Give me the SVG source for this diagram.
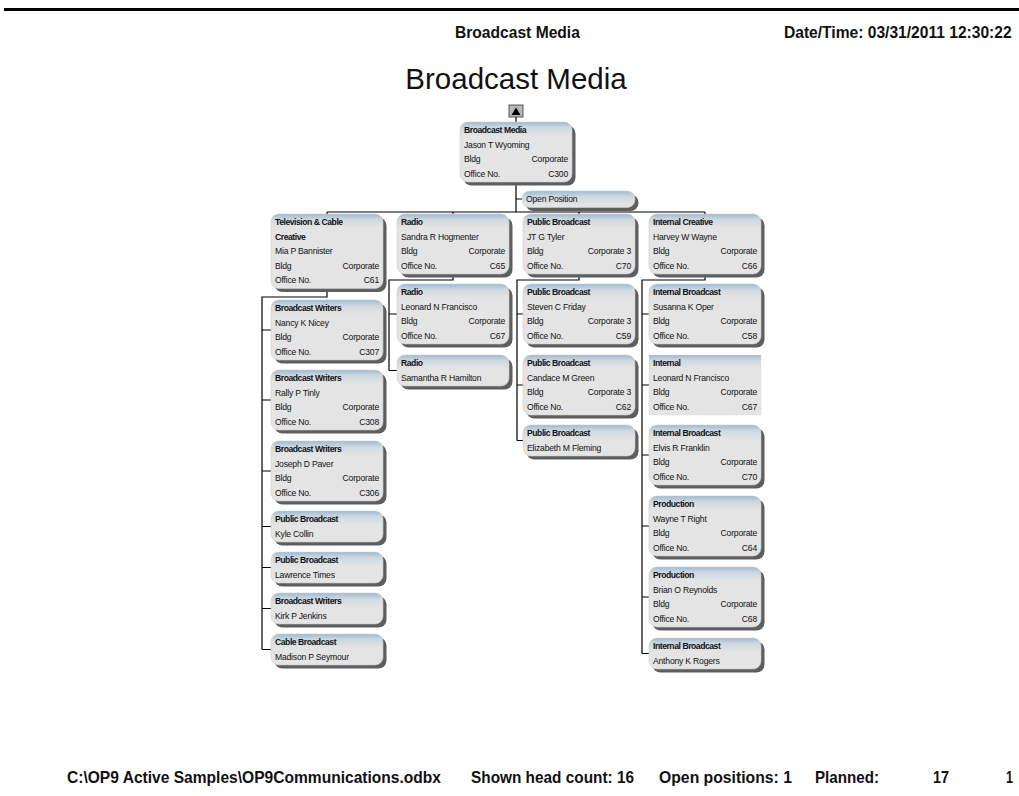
<svg xmlns="http://www.w3.org/2000/svg" width="1019" height="796" viewBox="0 0 1019 796">
<defs>
<linearGradient id="cg" gradientUnits="userSpaceOnUse" x1="0" y1="0" x2="0" y2="14">
<stop offset="0" stop-color="#9dbad2"/>
<stop offset="0.4" stop-color="#cfd8df"/>
<stop offset="1" stop-color="#e4e4e4"/>
</linearGradient>
<style>
.sh{fill:#5e5e5e}
.card{fill:url(#cg);stroke:#cfcfcf;stroke-width:0.6}
.flat{fill:url(#cg);stroke:#d8d8d8;stroke-width:0.6;stroke-dasharray:1.5 1}
text{font-family:"Liberation Sans",Arial,sans-serif;fill:#111}
.t{font-size:8.6px;font-weight:bold;letter-spacing:-0.45px}
.v{font-size:8.6px;letter-spacing:-0.2px}
.r{text-anchor:end}
.hd{font-size:16.5px;font-weight:bold}
.ttl{font-size:29.5px}
.conn{stroke:#000;stroke-width:1.2;fill:none}
</style>
</defs>
<rect x="4" y="8" width="1015" height="3" fill="#000"/>
<text class="hd" transform="translate(455,38) scale(0.947,1)">Broadcast Media</text>
<text class="hd" transform="translate(784,38) scale(0.945,1)">Date/Time: 03/31/2011 12:30:22</text>
<text class="ttl" x="516" y="89" text-anchor="middle">Broadcast Media</text>

<g id="connectors">
<path class="conn" d="M516 117V122"/>
<path class="conn" d="M516 182V212M516 199H522"/>
<path class="conn" d="M327 212H705M327 212V214M453 212V214M579 212V214M705 212V214"/>
<path class="conn" d="M327 288V297H262V649.5"/>
<path class="conn" d="M262 330H271M262 400H271M262 471H271M262 526.5H271M262 567.5H271M262 608.5H271M262 649.5H271"/>
<path class="conn" d="M453 274V280H389V370.5M389 314H397M389 370.5H397"/>
<path class="conn" d="M579 274V280H517V440.5M517 314H523M517 385H523M517 440.5H523"/>
<path class="conn" d="M705 274V280H642V653.5M642 314H649M642 385H649M642 455H649M642 526H649M642 597H649M642 653.5H649"/>
</g>

<g id="collapse-btn">
<rect x="509" y="105" width="14" height="12" fill="#b8b8b8" stroke="#333" stroke-width="0.8"/>
<path d="M511.5 115L516 107.5L520.5 115Z" fill="#000"/>
</g>

<g id="n-root" transform="translate(460,122)">
<rect class="sh" x="3.5" y="3.5" width="112" height="60" rx="8"/>
<rect class="card" width="112" height="60" rx="8"/>
<text class="t" x="4" y="11">Broadcast Media</text>
<text class="v" x="4" y="25.5">Jason T Wyoming</text>
<text class="v" x="4" y="40">Bldg</text><text class="v r" x="108" y="40">Corporate</text>
<text class="v" x="4" y="54.5">Office No.</text><text class="v r" x="108" y="54.5">C300</text>
</g>

<g id="n-open" transform="translate(522,191)">
<rect class="sh" x="3.5" y="3.5" width="113" height="16.5" rx="8"/>
<rect class="card" width="113" height="16.5" rx="8"/>
<text class="v" x="4" y="11">Open Position</text>
</g>

<g id="n-tv" transform="translate(271,214)">
<rect class="sh" x="3.5" y="3.5" width="112" height="74.5" rx="8"/>
<rect class="card" width="112" height="74.5" rx="8"/>
<text class="t" x="4" y="11">Television &amp; Cable</text>
<text class="t" x="4" y="25.5">Creative</text>
<text class="v" x="4" y="40">Mia P Bannister</text>
<text class="v" x="4" y="54.5">Bldg</text><text class="v r" x="108" y="54.5">Corporate</text>
<text class="v" x="4" y="69">Office No.</text><text class="v r" x="108" y="69">C61</text>
</g>

<g id="n-nancy" transform="translate(271,300)">
<rect class="sh" x="3.5" y="3.5" width="112" height="60" rx="8"/>
<rect class="card" width="112" height="60" rx="8"/>
<text class="t" x="4" y="11">Broadcast  Writers</text>
<text class="v" x="4" y="25.5">Nancy K Nicey</text>
<text class="v" x="4" y="40">Bldg</text><text class="v r" x="108" y="40">Corporate</text>
<text class="v" x="4" y="54.5">Office No.</text><text class="v r" x="108" y="54.5">C307</text>
</g>

<g id="n-rally" transform="translate(271,370)">
<rect class="sh" x="3.5" y="3.5" width="112" height="60" rx="8"/>
<rect class="card" width="112" height="60" rx="8"/>
<text class="t" x="4" y="11">Broadcast  Writers</text>
<text class="v" x="4" y="25.5">Rally P Tinly</text>
<text class="v" x="4" y="40">Bldg</text><text class="v r" x="108" y="40">Corporate</text>
<text class="v" x="4" y="54.5">Office No.</text><text class="v r" x="108" y="54.5">C308</text>
</g>

<g id="n-joseph" transform="translate(271,441)">
<rect class="sh" x="3.5" y="3.5" width="112" height="60" rx="8"/>
<rect class="card" width="112" height="60" rx="8"/>
<text class="t" x="4" y="11">Broadcast  Writers</text>
<text class="v" x="4" y="25.5">Joseph D Paver</text>
<text class="v" x="4" y="40">Bldg</text><text class="v r" x="108" y="40">Corporate</text>
<text class="v" x="4" y="54.5">Office No.</text><text class="v r" x="108" y="54.5">C306</text>
</g>

<g id="n-kyle" transform="translate(271,511)">
<rect class="sh" x="3.5" y="3.5" width="112" height="31" rx="8"/>
<rect class="card" width="112" height="31" rx="8"/>
<text class="t" x="4" y="11">Public Broadcast</text>
<text class="v" x="4" y="25.5">Kyle Collin</text>
</g>

<g id="n-lawrence" transform="translate(271,552)">
<rect class="sh" x="3.5" y="3.5" width="112" height="31" rx="8"/>
<rect class="card" width="112" height="31" rx="8"/>
<text class="t" x="4" y="11">Public Broadcast</text>
<text class="v" x="4" y="25.5">Lawrence Times</text>
</g>

<g id="n-kirk" transform="translate(271,593)">
<rect class="sh" x="3.5" y="3.5" width="112" height="31" rx="8"/>
<rect class="card" width="112" height="31" rx="8"/>
<text class="t" x="4" y="11">Broadcast  Writers</text>
<text class="v" x="4" y="25.5">Kirk P Jenkins</text>
</g>

<g id="n-madison" transform="translate(271,634)">
<rect class="sh" x="3.5" y="3.5" width="112" height="31" rx="8"/>
<rect class="card" width="112" height="31" rx="8"/>
<text class="t" x="4" y="11">Cable  Broadcast</text>
<text class="v" x="4" y="25.5">Madison P Seymour</text>
</g>

<g id="n-sandra" transform="translate(397,214)">
<rect class="sh" x="3.5" y="3.5" width="112" height="60" rx="8"/>
<rect class="card" width="112" height="60" rx="8"/>
<text class="t" x="4" y="11">Radio</text>
<text class="v" x="4" y="25.5">Sandra R Hogmenter</text>
<text class="v" x="4" y="40">Bldg</text><text class="v r" x="108" y="40">Corporate</text>
<text class="v" x="4" y="54.5">Office No.</text><text class="v r" x="108" y="54.5">C65</text>
</g>

<g id="n-leonard1" transform="translate(397,284)">
<rect class="sh" x="3.5" y="3.5" width="112" height="60" rx="8"/>
<rect class="card" width="112" height="60" rx="8"/>
<text class="t" x="4" y="11">Radio</text>
<text class="v" x="4" y="25.5">Leonard N Francisco</text>
<text class="v" x="4" y="40">Bldg</text><text class="v r" x="108" y="40">Corporate</text>
<text class="v" x="4" y="54.5">Office No.</text><text class="v r" x="108" y="54.5">C67</text>
</g>

<g id="n-samantha" transform="translate(397,355)">
<rect class="sh" x="3.5" y="3.5" width="112" height="31" rx="8"/>
<rect class="card" width="112" height="31" rx="8"/>
<text class="t" x="4" y="11">Radio</text>
<text class="v" x="4" y="25.5">Samantha R Hamilton</text>
</g>

<g id="n-jt" transform="translate(523,214)">
<rect class="sh" x="3.5" y="3.5" width="112" height="60" rx="8"/>
<rect class="card" width="112" height="60" rx="8"/>
<text class="t" x="4" y="11">Public Broadcast</text>
<text class="v" x="4" y="25.5">JT G Tyler</text>
<text class="v" x="4" y="40">Bldg</text><text class="v r" x="108" y="40">Corporate 3</text>
<text class="v" x="4" y="54.5">Office No.</text><text class="v r" x="108" y="54.5">C70</text>
</g>

<g id="n-steven" transform="translate(523,284)">
<rect class="sh" x="3.5" y="3.5" width="112" height="60" rx="8"/>
<rect class="card" width="112" height="60" rx="8"/>
<text class="t" x="4" y="11">Public Broadcast</text>
<text class="v" x="4" y="25.5">Steven C Friday</text>
<text class="v" x="4" y="40">Bldg</text><text class="v r" x="108" y="40">Corporate 3</text>
<text class="v" x="4" y="54.5">Office No.</text><text class="v r" x="108" y="54.5">C59</text>
</g>

<g id="n-candace" transform="translate(523,355)">
<rect class="sh" x="3.5" y="3.5" width="112" height="60" rx="8"/>
<rect class="card" width="112" height="60" rx="8"/>
<text class="t" x="4" y="11">Public Broadcast</text>
<text class="v" x="4" y="25.5">Candace M Green</text>
<text class="v" x="4" y="40">Bldg</text><text class="v r" x="108" y="40">Corporate 3</text>
<text class="v" x="4" y="54.5">Office No.</text><text class="v r" x="108" y="54.5">C62</text>
</g>

<g id="n-elizabeth" transform="translate(523,425)">
<rect class="sh" x="3.5" y="3.5" width="112" height="31" rx="8"/>
<rect class="card" width="112" height="31" rx="8"/>
<text class="t" x="4" y="11">Public Broadcast</text>
<text class="v" x="4" y="25.5">Elizabeth M Fleming</text>
</g>

<g id="n-harvey" transform="translate(649,214)">
<rect class="sh" x="3.5" y="3.5" width="112" height="60" rx="8"/>
<rect class="card" width="112" height="60" rx="8"/>
<text class="t" x="4" y="11">Internal  Creative</text>
<text class="v" x="4" y="25.5">Harvey W Wayne</text>
<text class="v" x="4" y="40">Bldg</text><text class="v r" x="108" y="40">Corporate</text>
<text class="v" x="4" y="54.5">Office No.</text><text class="v r" x="108" y="54.5">C66</text>
</g>

<g id="n-susanna" transform="translate(649,284)">
<rect class="sh" x="3.5" y="3.5" width="112" height="60" rx="8"/>
<rect class="card" width="112" height="60" rx="8"/>
<text class="t" x="4" y="11">Internal  Broadcast</text>
<text class="v" x="4" y="25.5">Susanna K Oper</text>
<text class="v" x="4" y="40">Bldg</text><text class="v r" x="108" y="40">Corporate</text>
<text class="v" x="4" y="54.5">Office No.</text><text class="v r" x="108" y="54.5">C58</text>
</g>

<g id="n-leonard2" transform="translate(649,355)">
<rect class="flat" width="112" height="60"/>
<text class="t" x="4" y="11">Internal</text>
<text class="v" x="4" y="25.5">Leonard N Francisco</text>
<text class="v" x="4" y="40">Bldg</text><text class="v r" x="108" y="40">Corporate</text>
<text class="v" x="4" y="54.5">Office No.</text><text class="v r" x="108" y="54.5">C67</text>
</g>

<g id="n-elvis" transform="translate(649,425)">
<rect class="sh" x="3.5" y="3.5" width="112" height="60" rx="8"/>
<rect class="card" width="112" height="60" rx="8"/>
<text class="t" x="4" y="11">Internal  Broadcast</text>
<text class="v" x="4" y="25.5">Elvis R Franklin</text>
<text class="v" x="4" y="40">Bldg</text><text class="v r" x="108" y="40">Corporate</text>
<text class="v" x="4" y="54.5">Office No.</text><text class="v r" x="108" y="54.5">C70</text>
</g>

<g id="n-wayne" transform="translate(649,496)">
<rect class="sh" x="3.5" y="3.5" width="112" height="60" rx="8"/>
<rect class="card" width="112" height="60" rx="8"/>
<text class="t" x="4" y="11">Production</text>
<text class="v" x="4" y="25.5">Wayne T Right</text>
<text class="v" x="4" y="40">Bldg</text><text class="v r" x="108" y="40">Corporate</text>
<text class="v" x="4" y="54.5">Office No.</text><text class="v r" x="108" y="54.5">C64</text>
</g>

<g id="n-brian" transform="translate(649,567)">
<rect class="sh" x="3.5" y="3.5" width="112" height="60" rx="8"/>
<rect class="card" width="112" height="60" rx="8"/>
<text class="t" x="4" y="11">Production</text>
<text class="v" x="4" y="25.5">Brian O Reynolds</text>
<text class="v" x="4" y="40">Bldg</text><text class="v r" x="108" y="40">Corporate</text>
<text class="v" x="4" y="54.5">Office No.</text><text class="v r" x="108" y="54.5">C68</text>
</g>

<g id="n-anthony" transform="translate(649,638)">
<rect class="sh" x="3.5" y="3.5" width="112" height="31" rx="8"/>
<rect class="card" width="112" height="31" rx="8"/>
<text class="t" x="4" y="11">Internal  Broadcast</text>
<text class="v" x="4" y="25.5">Anthony K Rogers</text>
</g>

<g id="footer">
<text class="hd" x="67" y="783" textLength="374" lengthAdjust="spacingAndGlyphs">C:\OP9 Active Samples\OP9Communications.odbx</text>
<text class="hd" x="471" y="783" textLength="163" lengthAdjust="spacingAndGlyphs">Shown head count: 16</text>
<text class="hd" x="659" y="783" textLength="133" lengthAdjust="spacingAndGlyphs">Open positions: 1</text>
<text class="hd" x="815" y="783" textLength="64" lengthAdjust="spacingAndGlyphs">Planned:</text>
<text class="hd" x="933" y="783" textLength="16" lengthAdjust="spacingAndGlyphs">17</text>
<text class="hd" x="1006" y="783" textLength="7" lengthAdjust="spacingAndGlyphs">1</text>
</g>
</svg>
